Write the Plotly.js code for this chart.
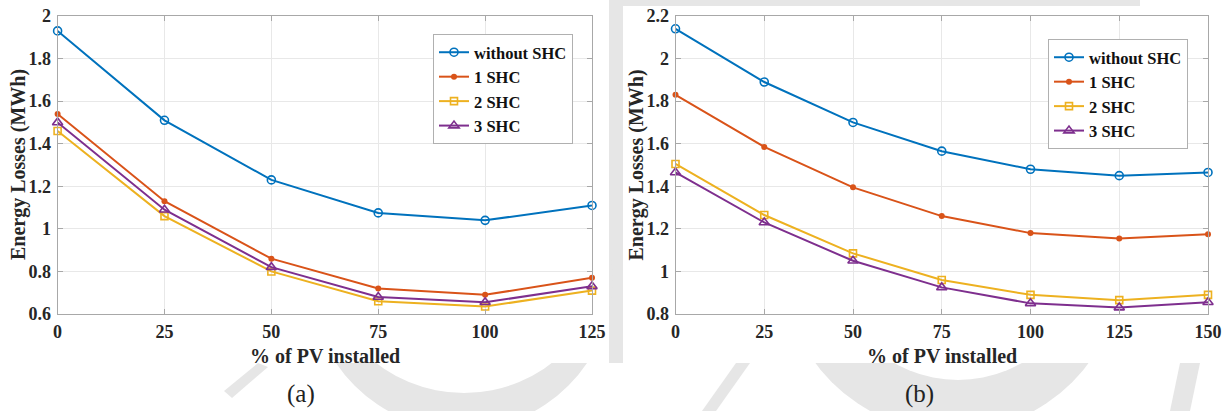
<!DOCTYPE html>
<html>
<head>
<meta charset="utf-8">
<script src="https://cdn.plot.ly/plotly-3.0.1.min.js"></script>
<style>
  html, body { margin: 0; padding: 0; background: #ffffff; }
  #chart { width: 1228px; height: 411px; }
</style>
</head>
<body>
<div id="chart"></div>
<script>
// Share of PV installed (%) for the two studied cases
const pvA = [0, 25, 50, 75, 100, 125];
const pvB = [0, 25, 50, 75, 100, 125, 150];

// Energy losses (MWh), case (a)
const lossA_noSHC = [1.93, 1.51, 1.23, 1.075, 1.04, 1.11];
const lossA_1SHC  = [1.54, 1.13, 0.86, 0.72, 0.69, 0.77];
const lossA_2SHC  = [1.46, 1.06, 0.80, 0.66, 0.635, 0.71];
const lossA_3SHC  = [1.50, 1.09, 0.82, 0.68, 0.655, 0.73];

// Energy losses (MWh), case (b)
const lossB_noSHC = [2.14, 1.89, 1.70, 1.565, 1.48, 1.45, 1.465];
const lossB_1SHC  = [1.83, 1.585, 1.395, 1.26, 1.18, 1.155, 1.175];
const lossB_2SHC  = [1.505, 1.265, 1.085, 0.96, 0.89, 0.865, 0.89];
const lossB_3SHC  = [1.465, 1.23, 1.05, 0.925, 0.85, 0.83, 0.855];

const seriesNames = ['without SHC', '1 SHC', '2 SHC', '3 SHC'];
const yTicksA = [0.6, 0.8, 1, 1.2, 1.4, 1.6, 1.8, 2];
const yTicksB = [0.8, 1, 1.2, 1.4, 1.6, 1.8, 2, 2.2];

// Page geometry helpers (pixels -> paper fractions)
const W = 1228, H = 411;
const px = x => x / W;
const py = y => 1 - y / H;

const colors = ['#0072BD', '#D95319', '#EDB120', '#7E2F8E'];
const markers = [
  { symbol: 'circle-open', size: 8, line: { width: 1.6 } },
  { symbol: 'circle', size: 6 },
  { symbol: 'square-open', size: 7, line: { width: 1.6 } },
  { symbol: 'triangle-up-open', size: 9, line: { width: 1.6 } }
];

function makeTraces(xs, ys, xa, ya, legendId) {
  return ys.map((y, i) => ({
    type: 'scatter',
    mode: 'lines+markers',
    name: seriesNames[i],
    x: xs,
    y: y,
    xaxis: xa,
    yaxis: ya,
    legend: legendId,
    line: { color: colors[i], width: 2 },
    marker: Object.assign({ color: colors[i] }, markers[i]),
    cliponaxis: false
  }));
}

const traces = [
  ...makeTraces(pvA, [lossA_noSHC, lossA_1SHC, lossA_2SHC, lossA_3SHC], 'x', 'y', 'legend'),
  ...makeTraces(pvB, [lossB_noSHC, lossB_1SHC, lossB_2SHC, lossB_3SHC], 'x2', 'y2', 'legend2')
];

const serif = '"Liberation Serif", "Times New Roman", serif';
const tickFont = { family: serif, size: 18, color: '#262626', weight: 'bold' };
const titleFont = { family: serif, size: 20, color: '#262626', weight: 'bold' };
const legendFont = { family: serif, size: 16.5, color: '#111111', weight: 'bold' };

function xAxis(domain, maxX, anchor) {
  return {
    domain: domain, anchor: anchor,
    range: [0, maxX], tick0: 0, dtick: 25,
    showgrid: true, gridcolor: '#e8e8e8', gridwidth: 1,
    zeroline: false,
    showline: true, linecolor: '#a8a8a8', linewidth: 1, mirror: 'allticks',
    ticks: 'inside', ticklen: 5, tickcolor: '#a8a8a8',
    tickfont: tickFont, ticklabelstandoff: 1
  };
}
function yAxis(domain, range, vals, anchor) {
  return {
    domain: domain, anchor: anchor,
    range: range, tickvals: vals,
    showgrid: true, gridcolor: '#e8e8e8', gridwidth: 1,
    zeroline: false,
    showline: true, linecolor: '#a8a8a8', linewidth: 1, mirror: 'allticks',
    ticks: 'inside', ticklen: 5, tickcolor: '#a8a8a8',
    tickfont: tickFont, ticklabelstandoff: 2
  };
}

const gray = '#e6e6e6';
const shapes = [
  // faint background watermark
  { type: 'rect', xref: 'paper', yref: 'paper', x0: px(609), x1: px(623), y0: py(363), y1: py(0), fillcolor: gray, line: { width: 0 }, layer: 'below' },
  { type: 'rect', xref: 'paper', yref: 'paper', x0: px(609), x1: px(1140), y0: py(6), y1: py(0), fillcolor: gray, line: { width: 0 }, layer: 'below' },
  { type: 'circle', xref: 'paper', yref: 'paper', x0: px(461.5 - 151), x1: px(461.5 + 151), y0: py(279 + 151), y1: py(279 - 151), fillcolor: gray, line: { width: 0 }, layer: 'below' },
  { type: 'circle', xref: 'paper', yref: 'paper', x0: px(464 - 144), x1: px(464 + 144), y0: py(249 + 144), y1: py(249 - 144), fillcolor: '#ffffff', line: { width: 0 }, layer: 'below' },
  { type: 'path', xref: 'paper', yref: 'paper', path: `M ${px(224)},${py(391)} L ${px(258)},${py(363)} L ${px(268)},${py(367)} L ${px(232)},${py(398)} Z`, fillcolor: gray, line: { width: 0 }, layer: 'below' },
  { type: 'circle', xref: 'paper', yref: 'paper', x0: px(952 - 170), x1: px(952 + 170), y0: py(262 + 170), y1: py(262 - 170), fillcolor: gray, line: { width: 0 }, layer: 'below' },
  { type: 'circle', xref: 'paper', yref: 'paper', x0: px(958 - 128), x1: px(958 + 128), y0: py(252 + 128), y1: py(252 - 128), fillcolor: '#ffffff', line: { width: 0 }, layer: 'below' },
  { type: 'path', xref: 'paper', yref: 'paper', path: `M ${px(736)},${py(363)} L ${px(750)},${py(363)} L ${px(716)},${py(411)} L ${px(702)},${py(411)} Z`, fillcolor: gray, line: { width: 0 }, layer: 'below' },
  { type: 'path', xref: 'paper', yref: 'paper', path: `M ${px(1180)},${py(363)} L ${px(1200)},${py(363)} L ${px(1190)},${py(411)} L ${px(1170)},${py(411)} Z`, fillcolor: gray, line: { width: 0 }, layer: 'below' },
  // white figure panels
  { type: 'rect', xref: 'paper', yref: 'paper', x0: px(0), x1: px(609), y0: py(363), y1: py(0), fillcolor: '#ffffff', line: { width: 0 }, layer: 'below' },
  { type: 'rect', xref: 'paper', yref: 'paper', x0: px(623), x1: px(1228), y0: py(363), y1: py(6), fillcolor: '#ffffff', line: { width: 0 }, layer: 'below' }
];

const annotations = [
  { text: 'Energy Losses (MWh)', xref: 'paper', yref: 'paper', x: px(18), y: py(165), textangle: -90, showarrow: false, font: titleFont, xanchor: 'center', yanchor: 'middle' },
  { text: 'Energy Losses (MWh)', xref: 'paper', yref: 'paper', x: px(635.5), y: py(165), textangle: -90, showarrow: false, font: titleFont, xanchor: 'center', yanchor: 'middle' },
  { text: '% of PV installed', xref: 'paper', yref: 'paper', x: px(325), y: py(356), showarrow: false, font: titleFont, xanchor: 'center', yanchor: 'middle' },
  { text: '% of PV installed', xref: 'paper', yref: 'paper', x: px(942), y: py(356), showarrow: false, font: titleFont, xanchor: 'center', yanchor: 'middle' },
  { text: '(a)', xref: 'paper', yref: 'paper', x: px(301), y: py(394), showarrow: false, font: { family: serif, size: 25, color: '#222222' }, xanchor: 'center', yanchor: 'middle' },
  { text: '(b)', xref: 'paper', yref: 'paper', x: px(919), y: py(394), showarrow: false, font: { family: serif, size: 25, color: '#222222' }, xanchor: 'center', yanchor: 'middle' }
];

const legendBase = {
  bgcolor: '#ffffff', bordercolor: '#b0b0b0', borderwidth: 1,
  font: legendFont, itemwidth: 30, tracegroupgap: 0,
  xanchor: 'right', yanchor: 'top'
};

const layout = {
  width: W, height: H,
  margin: { l: 0, r: 0, t: 0, b: 0 },
  paper_bgcolor: '#ffffff',
  plot_bgcolor: 'rgba(0,0,0,0)',
  showlegend: true,
  xaxis: xAxis([px(57.6), px(592)], 125, 'y'),
  yaxis: yAxis([py(314), py(16)], [0.6, 2], yTicksA, 'x'),
  xaxis2: xAxis([px(675.5), px(1208)], 150, 'y2'),
  yaxis2: yAxis([py(314), py(16)], [0.8, 2.2], yTicksB, 'x2'),
  legend: Object.assign({}, legendBase, { x: px(573), y: py(34) }),
  legend2: Object.assign({}, legendBase, { x: px(1188), y: py(39) }),
  shapes: shapes,
  annotations: annotations
};

Plotly.newPlot('chart', traces, layout, { staticPlot: true, displayModeBar: false });
</script>
</body>
</html>
